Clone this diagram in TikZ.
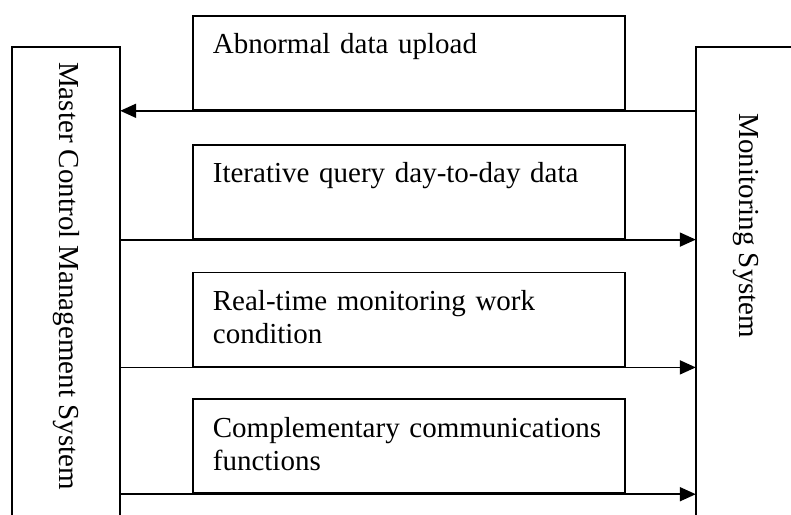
\documentclass[tikz,border=0pt]{standalone}
\usepackage{fontspec}
\setmainfont{Liberation Serif}
\usepackage{graphicx}
\usetikzlibrary{arrows.meta, positioning}
\hyphenpenalty=10000
\tikzset{
  basebox/.style={rectangle, inner sep=0pt, font=\fontsize{29}{33}\selectfont},
  sysnode/.style={basebox, minimum width=108pt},
  msgnode/.style={basebox, draw, line width=1.8pt, anchor=north west,
                  minimum width=432pt, minimum height=94pt, inner xsep=20pt,
                  text width=392pt, align=left, text height=38pt, text depth=56pt},
  frame/.style={line width=1.8pt},
  arrow/.style={-{Triangle[length=16pt, width=14pt]}, line width=1.8pt}
}

\begin{document}
\begin{tikzpicture}[x=1pt, y=-1pt]
  \useasboundingbox (0,0) rectangle (791,514);

  % Systems
  \node[sysnode, minimum height=458pt] (mcs) at (66,276)
      {\rotatebox{-90}{Master Control Management System}};
  \node[sysnode, minimum width=100pt, minimum height=358pt] (mon) at (746,226)
      {\rotatebox{-90}{Monitoring System}};
  \draw[frame] ([yshift=-40pt]mcs.south west) |- (mcs.north east)
      -- ([yshift=-40pt]mcs.south east);
  \draw[frame] ([yshift=-150pt]mon.south west) |- ([xshift=20pt]mon.north east);

  % Messages
  \node[msgnode] (upload) at (192,15) {Abnormal data upload};
  \node[msgnode, below=33pt of upload] (query) {Iterative query day-to-day data};
  \node[msgnode, below=32pt of query] (realtime) {Real-time monitoring work condition};
  \node[msgnode, below=31pt of realtime] (comm) {Complementary communications functions};

  % Arrows
  \draw[arrow] (mon.west |- upload.south) -- (mcs.east |- upload.south);
  \draw[arrow] (mcs.east |- query.south) -- (mon.west |- query.south);
  \draw[arrow] (mcs.east |- realtime.south) -- (mon.west |- realtime.south);
  \draw[arrow] (mcs.east |- comm.south) -- (mon.west |- comm.south);

\end{tikzpicture}
\end{document}
